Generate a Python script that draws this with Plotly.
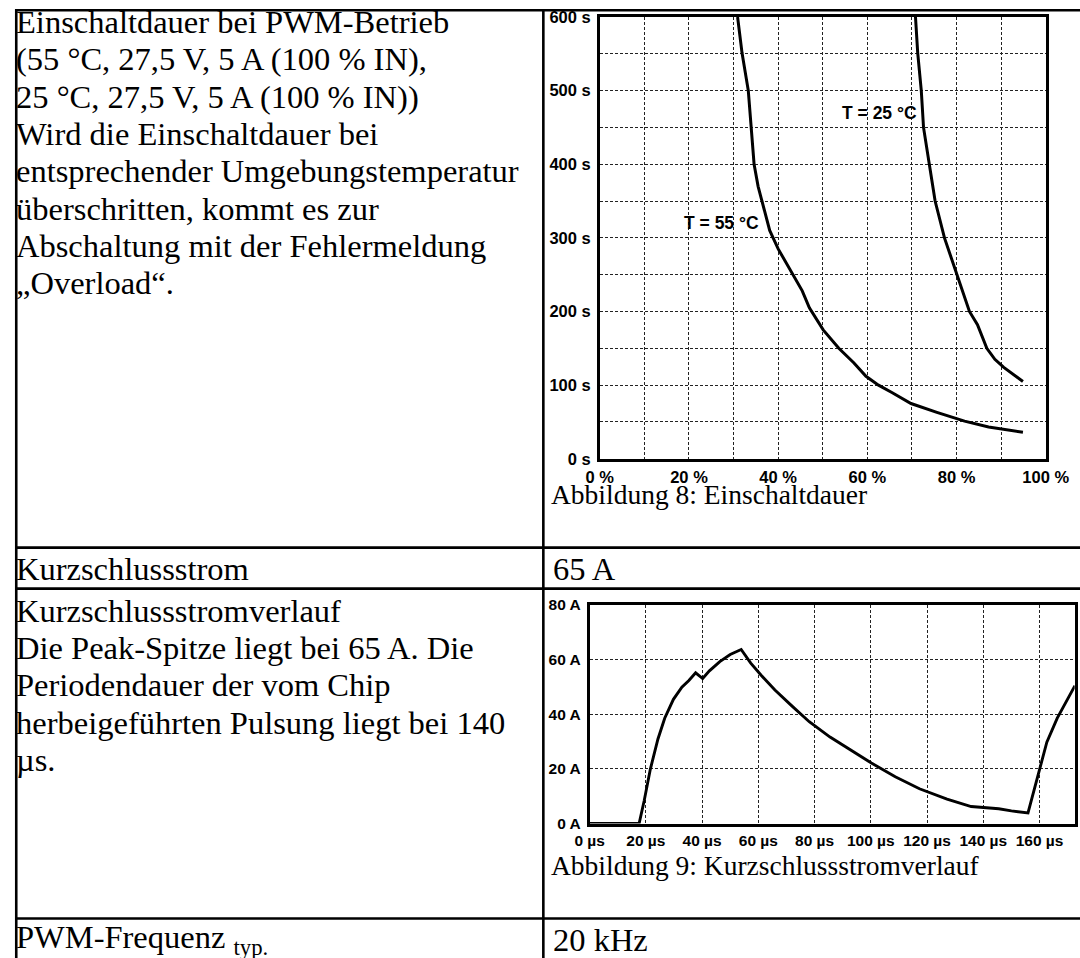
import plotly.graph_objects as go

# Reference pixel -> page pixel conversion (compensates the fixed scaling/offset
# observed between the written page and the photographed picture).
SX, OX = 0.965, 14.0
SY, OY = 0.982, 8.0
W, H = 1105, 968

# ---------------- data: Abbildung 8 (Einschaltdauer) ----------------
duty_55 = [30.9, 31.9, 33.3, 34.0, 34.6, 35.5, 36.6, 38.1, 40.0, 42.3, 45.4, 47.0,
           50.1, 53.6, 57.0, 59.7, 62.5, 65.5, 69.8, 75.6, 81.8, 87.2, 94.9]
time_55 = [600, 551, 500, 450, 400, 370, 346, 310, 285, 260, 228, 205,
           175, 150, 130, 112, 100, 90, 75, 63, 51, 43, 36]
duty_25 = [70.8, 71.3, 72.1, 72.6, 73.9, 75.2, 77.3, 80.1, 82.9, 84.7, 86.8, 88.6, 90.6, 94.9]
time_25 = [600, 551, 500, 450, 400, 350, 300, 250, 200, 182, 150, 135, 124, 105]
label_25 = "T = 25 °C"
label_55 = "T = 55 °C"

# ---------------- data: Abbildung 9 (Kurzschlussstromverlauf) ----------------
t_us = [0, 17.6, 19.4, 21.6, 24.3, 26.7, 29.8, 32.8, 35.3, 37.7, 40.2, 42.6, 46.3, 50.0,
        53.9, 57.3, 61.0, 65.9, 72.0, 78.1, 85.5, 92.8, 100.2, 108.7, 117.3, 127.1,
        135.7, 145.5, 150.0, 155.9, 157.7, 160.0, 162.6, 166.3, 170.0, 172.6]
i_a = [0, 0, 8.3, 19.9, 30.9, 38.5, 45.4, 49.8, 52.3, 55.1, 53.0, 55.8, 59.2, 61.8,
       63.6, 58.6, 54.2, 48.8, 42.9, 37.2, 31.6, 26.8, 22.1, 17.1, 12.7, 8.9,
       6.2, 5.4, 4.6, 3.9, 10.8, 19.9, 29.7, 38.5, 45.4, 50.4]

# ---------------- table text ----------------
row1_left = ["Einschaltdauer bei PWM-Betrieb",
             "(55 °C, 27,5 V, 5 A (100 % IN),",
             "25 °C, 27,5 V, 5 A (100 % IN))",
             "Wird die Einschaltdauer bei",
             "entsprechender Umgebungstemperatur",
             "überschritten, kommt es zur",
             "Abschaltung mit der Fehlermeldung",
             "„Overload“."]
caption1 = "Abbildung 8: Einschaltdauer"
row2_left = "Kurzschlussstrom"
row2_right = "65 A"
row3_left = ["Kurzschlussstromverlauf",
             "Die Peak-Spitze liegt bei 65 A. Die",
             "Periodendauer der vom Chip",
             "herbeigeführten Pulsung liegt bei 140",
             "µs."]
caption2 = "Abbildung 9: Kurzschlussstromverlauf"
row4_left = "PWM-Frequenz <sub>typ.</sub>"
row4_right = "20 kHz"


def px(x):
    """reference x (px) -> paper fraction"""
    return min(max(((x - OX) / SX) / W, 0), 1)


def py(y):
    """reference y (px, from top) -> paper fraction"""
    return min(max(1 - ((y - OY) / SY) / H, 0), 1)


SERIF = "Liberation Serif, Times New Roman, serif"
SANS = "Liberation Sans, Arial, sans-serif"
BODY = 32.5
CAP = 27.5

fig = go.Figure()
fig.add_trace(go.Scatter(x=duty_55, y=time_55, mode="lines", line=dict(color="black", width=3),
                         xaxis="x", yaxis="y", showlegend=False, hoverinfo="skip"))
fig.add_trace(go.Scatter(x=duty_25, y=time_25, mode="lines", line=dict(color="black", width=3),
                         xaxis="x", yaxis="y", showlegend=False, hoverinfo="skip"))
fig.add_trace(go.Scatter(x=t_us, y=i_a, mode="lines", line=dict(color="black", width=2.9),
                         xaxis="x2", yaxis="y2", showlegend=False, hoverinfo="skip"))

grid = dict(gridcolor="#222222", gridwidth=1, griddash="3px,2px")
frame = dict(showline=True, linecolor="black", linewidth=2.6, mirror=True, zeroline=False,
             showgrid=True, ticks="", **grid)
f1 = dict(family=SANS, size=16.5, color="black", weight="bold")
f2 = dict(family=SANS, size=15.5, color="black", weight="bold")

fig.update_layout(
    width=W, height=H, margin=dict(l=0, r=0, t=0, b=0), autosize=False,
    paper_bgcolor="white", plot_bgcolor="white",
    xaxis=dict(domain=[px(599), px(1045)], anchor="y", range=[0, 100], dtick=20,
               ticksuffix=" %", tickfont=f1, ticklabelstandoff=2,
               minor=dict(dtick=10, showgrid=True, **grid), **frame),
    yaxis=dict(domain=[py(458), py(16)], anchor="x", range=[0, 600], dtick=100,
               ticksuffix=" s", tickfont=f1, ticklabelstandoff=3,
               minor=dict(dtick=50, showgrid=True, **grid), **frame),
    xaxis2=dict(domain=[px(588.8), px(1074)], anchor="y2", range=[0, 172.5], dtick=20,
                ticksuffix=" µs", tickfont=f2, ticklabelstandoff=1, **frame),
    yaxis2=dict(domain=[py(823), py(604)], anchor="x2", range=[0, 80], dtick=20,
                ticksuffix=" A", tickfont=f2, ticklabelstandoff=3, **frame),
)

ann = []


def text_line(s, x, baseline, size):
    centre = baseline - 0.3375 * size * SY
    ann.append(dict(text=s, x=px(x), y=py(centre), xref="paper", yref="paper",
                    xanchor="left", yanchor="middle", showarrow=False, borderpad=0,
                    font=dict(family=SERIF, size=size, color="black")))


for k, s in enumerate(row1_left):
    text_line(s, 12, 32 + 37.3 * k, BODY)
text_line(caption1, 549, 503, CAP)
text_line(row2_left, 12, 579, BODY)
text_line(row2_right, 551, 579, BODY)
for k, s in enumerate(row3_left):
    text_line(s, 12, 621 + 37.3 * k, BODY)
text_line(caption2, 549, 874, CAP)
text_line(row4_left, 12, 950, BODY)
text_line(row4_right, 551, 950, BODY)

ann.append(dict(text=label_25, x=62.7, y=470, xref="x", yref="y", showarrow=False,
                font=dict(family=SANS, size=17.5, color="black", weight="bold")))
ann.append(dict(text=label_55, x=27.2, y=320, xref="x", yref="y", showarrow=False,
                font=dict(family=SANS, size=17.5, color="black", weight="bold")))
fig.update_layout(annotations=ann)

# table rules
shapes = []
lw = 2.6
edge_y = 1 - 1.3 / H
edge_x = 1.3 / W
for yy in [edge_y, py(547), py(588), py(918)]:
    shapes.append(dict(type="line", xref="paper", yref="paper", x0=0, x1=1, y0=yy, y1=yy,
                       line=dict(color="black", width=lw)))
for xx in [edge_x, px(542.5)]:
    shapes.append(dict(type="line", xref="paper", yref="paper", x0=xx, x1=xx, y0=0, y1=1,
                       line=dict(color="black", width=lw)))
fig.update_layout(shapes=shapes)

fig.write_html("out.html", config={"displayModeBar": False, "responsive": False},
               post_script="document.body.style.margin='0';"
                           "document.documentElement.style.overflow='hidden';"
                           "document.body.style.overflow='hidden';")
